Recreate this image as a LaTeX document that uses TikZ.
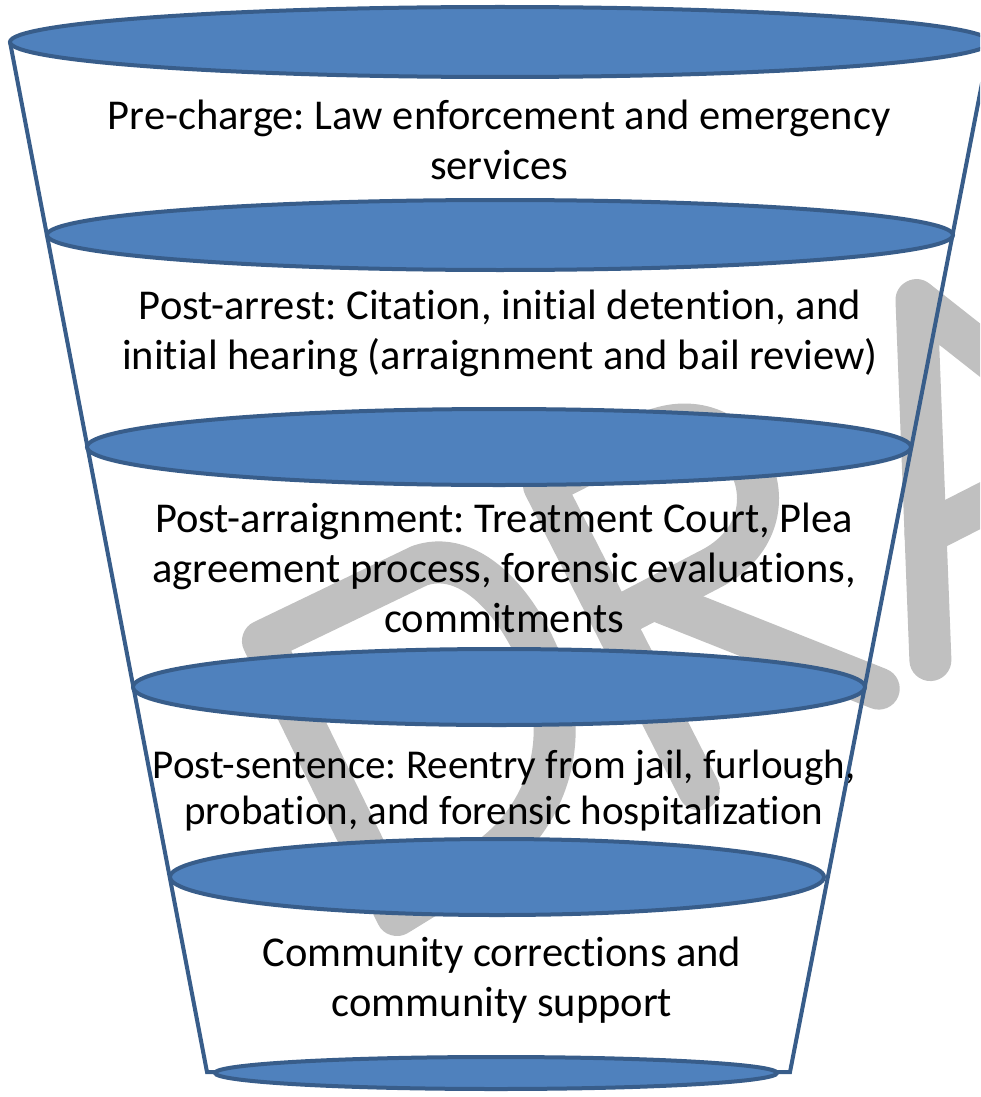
\documentclass[tikz,border=0pt]{standalone}
\usepackage{fontspec}
\setmainfont{Carlito}[Ligatures={NoCommon}]
\frenchspacing
\definecolor{fillblue}{HTML}{4F81BD}
\definecolor{edgeblue}{HTML}{385D8A}
\definecolor{wmgray}{HTML}{C0C0C0}
\begin{document}
\begin{tikzpicture}[x=1pt,y=-1pt,
  disc/.style={draw=edgeblue, fill=fillblue, line width=4pt},
  side/.style={draw=edgeblue, line width=4pt, line join=miter},
  label/.style={font=\fontsize{42.5}{50}\selectfont, align=center, text=black, inner sep=0pt},
  smalllabel/.style={font=\fontsize{41}{46}\selectfont, align=center, text=black, inner sep=0pt},
  wmark/.style={draw=wmgray, line width=42pt, line cap=round, line join=round}]
\useasboundingbox (0,0) rectangle (980,1097);
\clip (0,0) rectangle (980,1097);
\fill[white] (0,0) rectangle (980,1097);

% watermark "DRAFT" (only D, R, A visible)
\begin{scope}[shift={(397,915)}, rotate=27]
  % D
  \draw[wmark] (0,0) -- (5,-305) -- (179,-301)
    .. controls (240,-292) and (252,-200) .. (240,-140)
    .. controls (226,-62) and (165,-15) .. (100,-8) -- cycle;
  % R
  \draw[wmark] (326,25) -- (326,-316) -- (440,-316)
    .. controls (545,-312) and (545,-170) .. (440,-166) -- (330,-165);
  \draw[wmark] (372,-165) -- (532,17);
  % A
  \draw[wmark] (591,15) -- (742,-312) -- (893,15);
  \draw[wmark] (644,-100) -- (840,-100);
\end{scope}

% funnel sides
\coordinate (tl) at (10,42);
\coordinate (tr) at (990,42);
\coordinate (bl) at (207,1072);
\coordinate (br) at (790,1072);
\coordinate (el) at (215,1072);
\coordinate (er) at (777,1072);
\draw[side] (tl) -- (bl) -- (el);
\draw[side] (tr) -- (br) -- (er);

% discs
\draw[disc] (500,42) ellipse [x radius=490, y radius=35];
\draw[disc] (500,235) ellipse [x radius=453, y radius=35];
\draw[disc] (499,447) ellipse [x radius=412, y radius=38];
\draw[disc] (499,687) ellipse [x radius=366, y radius=38];
\draw[disc] (497,877) ellipse [x radius=327, y radius=38];
\draw[disc] (496,1073) ellipse [x radius=281, y radius=16];

% labels
\node[label] (t1) at (499,140) {Pre-charge: Law enforcement and emergency\\services};
\node[label] (t2) at (500,333) {Post-arrest: Citation, initial detention, and\\initial hearing (arraignment and bail review)};
\node[label] (t3) at (504,568) {Post-arraignment: Treatment Court, Plea\\agreement process, forensic evaluations,\\commitments};
\node[smalllabel] (t4) at (504,791) {Post-sentence: Reentry from jail, furlough,\\probation, and forensic hospitalization};
\node[label] (t5) at (502,980) {Community corrections and\\community support};
\end{tikzpicture}
\end{document}
